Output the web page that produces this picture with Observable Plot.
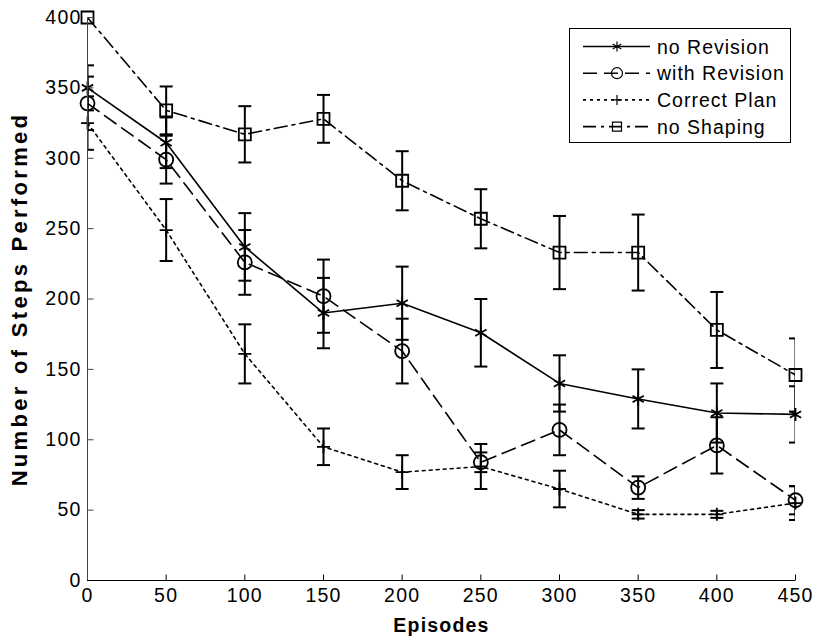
<!DOCTYPE html>
<html>
<head>
<meta charset="utf-8">
<script src="https://cdn.jsdelivr.net/npm/d3@7"></script>
<script src="https://cdn.jsdelivr.net/npm/@observablehq/plot@0.6"></script>
<style>
  html, body { margin: 0; padding: 0; background: #fff; }
  #wrap { position: relative; width: 815px; height: 641px; }
  #legend { position: absolute; left: 569px; top: 28px; width: 222px; height: 115px;
    border: 1px solid #000; background: #fff; box-sizing: border-box; }
</style>
</head>
<body>
<div id="wrap"><div id="chart"></div><div id="legend"></div></div>
<script>
// ---- data ----
const episodes = [0, 50, 100, 150, 200, 250, 300, 350, 400, 450];
const noRevision      = [350, 311, 237, 190, 197, 176, 140, 129, 119, 118];
const noRevisionErr   = [16, 18, 24, 25, 26, 24, 20, 21, 21, 20];
const withRevision    = [339, 299, 226, 202, 163, 84, 107, 66, 96, 57];
const withRevisionErr = [19, 17, 23, 26, 23, 7, 18, 8, 20, 10];
const correctPlan     = [325, 249, 161, 95, 77, 81, 65, 47, 47, 55];
const correctPlanErr  = [19, 22, 21, 13, 12, 16, 13, 3, 2.5, 12];
const noShaping       = [400, 334, 317, 328, 284, 257, 233, 233, 178, 146];
const noShapingErr    = [null, 17, 20, 17, 21, 21, 26, 27, 27, 26];
const seriesNames = ["no Revision", "with Revision", "Correct Plan", "no Shaping"];
const xTicks = [0, 50, 100, 150, 200, 250, 300, 350, 400, 450];
const yTicks = [0, 50, 100, 150, 200, 250, 300, 350, 400];
const xLabel = "Episodes";
const yLabel = "Number of Steps Performed";

// ---- custom symbols ----
const rad = (size) => Math.sqrt(size / Math.PI);
const symAsterisk = { draw(ctx, size) { const r = rad(size), c = r * Math.cos(Math.PI / 6), s = r * Math.sin(Math.PI / 6);
  ctx.moveTo(0, -r); ctx.lineTo(0, r); ctx.moveTo(-c, -s); ctx.lineTo(c, s); ctx.moveTo(-c, s); ctx.lineTo(c, -s); } };
const symPlus = { draw(ctx, size) { const r = rad(size); ctx.moveTo(-r, 0); ctx.lineTo(r, 0); ctx.moveTo(0, -r); ctx.lineTo(0, r); } };
const symSquare = { draw(ctx, size) { const r = rad(size); ctx.moveTo(-r, -r); ctx.lineTo(r, -r); ctx.lineTo(r, r); ctx.lineTo(-r, r); ctx.closePath(); } };
const symCircle = { draw(ctx, size) { const r = rad(size); ctx.moveTo(r, 0); ctx.arc(0, 0, r, 0, 2 * Math.PI); } };
const symCap = { draw(ctx, size) { const r = rad(size); ctx.moveTo(-r, 0); ctx.lineTo(r, 0); } };
const symTickRight = { draw(ctx) { ctx.moveTo(0, 0); ctx.lineTo(6, 0); } };
const symTickUp = { draw(ctx) { ctx.moveTo(0, 0); ctx.lineTo(0, -6); } };

const series = [
  { name: seriesNames[0], values: noRevision, err: noRevisionErr, dash: null, symbol: symAsterisk, r: 6.5 },
  { name: seriesNames[1], values: withRevision, err: withRevisionErr, dash: "14,7", symbol: symCircle, r: 7 },
  { name: seriesNames[2], values: correctPlan, err: correctPlanErr, dash: "3,4", symbol: symPlus, r: 6.5 },
  { name: seriesNames[3], values: noShaping, err: noShapingErr, dash: "13,5,3,5", symbol: symSquare, r: 6 }
];

const rows = series.flatMap(s => episodes.map((x, i) => ({ series: s.name, x, y: s.values[i], err: s.err[i] })));
const errRows = rows.filter(d => d.err != null);
const capRows = errRows.flatMap(d => [{ x: d.x, y: d.y + d.err }, { x: d.x, y: d.y - d.err }]);

const marks = [];
// error bars
marks.push(Plot.ruleX(errRows, { x: "x", y1: d => d.y - d.err, y2: d => d.y + d.err, stroke: "black", strokeWidth: 2, clip: true }));
marks.push(Plot.dot(capRows, { x: "x", y: "y", symbol: symCap, r: 6.5, stroke: "black", fill: "none", strokeWidth: 2, clip: true }));
// lines
for (const s of series) {
  marks.push(Plot.line(rows.filter(d => d.series === s.name), { x: "x", y: "y", stroke: "black", strokeWidth: 1.6,
    strokeDasharray: s.dash, clip: true }));
}
// markers
for (const s of series) {
  marks.push(Plot.dot(rows.filter(d => d.series === s.name), { x: "x", y: "y", symbol: s.symbol, r: s.r,
    stroke: "black", fill: "none", strokeWidth: 1.8 }));
}
// axes
marks.push(Plot.ruleX([0], { stroke: "#444", strokeWidth: 1 }));
marks.push(Plot.ruleY([0], { stroke: "black", strokeWidth: 1 }));
marks.push(Plot.dot(yTicks.slice(1), { y: d => d, frameAnchor: "left", symbol: symTickRight, stroke: "#444", strokeWidth: 1 }));
marks.push(Plot.dot(xTicks.slice(1), { x: d => d, frameAnchor: "bottom", symbol: symTickUp, stroke: "black", strokeWidth: 1 }));
marks.push(Plot.axisY(yTicks, { tickSize: 0, tickPadding: 6, label: null, fontSize: 19.5 }));
marks.push(Plot.axisX(xTicks, { tickSize: 0, tickPadding: 8, label: null, fontSize: 19.5 }));
marks.push(Plot.text([xLabel], { frameAnchor: "bottom", dy: 51, fontWeight: "bold", fontSize: 19.5 }));
marks.push(Plot.text([yLabel], { frameAnchor: "left", textAnchor: "middle", dx: -68, rotate: -90, fontWeight: "bold", fontSize: 22 }));

const chart = Plot.plot({
  width: 815, height: 641,
  marginLeft: 87, marginRight: 20, marginTop: 17, marginBottom: 61,
  x: { domain: [0, 450], label: null },
  y: { domain: [0, 400], label: null },
  style: { fontFamily: "'Liberation Sans', Arial, Helvetica, sans-serif", fontSize: "20px", color: "black",
    background: "white", letterSpacing: "1.2px" },
  marks
});
document.getElementById("chart").appendChild(chart);
// styling of the rotated y title (wide tracking, as in the reference)
d3.select(chart).selectAll("text").filter(function () { return this.textContent === yLabel; })
  .style("letter-spacing", "3.3px");

// ---- legend (overlay inside the axes, as in the reference) ----
const lg = d3.select("#legend").append("svg").attr("width", 220).attr("height", 113)
  .style("font-family", "'Liberation Sans', Arial, Helvetica, sans-serif").style("font-size", "19.5px")
  .style("letter-spacing", "1px");
series.forEach((s, i) => {
  const cy = 17.5 + i * 26.7;
  const g = lg.append("g").attr("transform", `translate(0,${cy})`);
  g.append("line").attr("x1", 13).attr("x2", 80).attr("y1", 0).attr("y2", 0)
    .attr("stroke", "black").attr("stroke-width", 1.6).attr("stroke-dasharray", s.dash);
  const sym = d3.symbol().type(s.symbol).size(Math.PI * (s.r - 1.5) * (s.r - 1.5));
  g.append("path").attr("d", sym()).attr("transform", "translate(47,0)")
    .attr("fill", "none").attr("stroke", "black").attr("stroke-width", 1.2);
  g.append("text").attr("x", 87).attr("y", 0).attr("dy", "0.36em").text(s.name);
});
</script>
</body>
</html>
